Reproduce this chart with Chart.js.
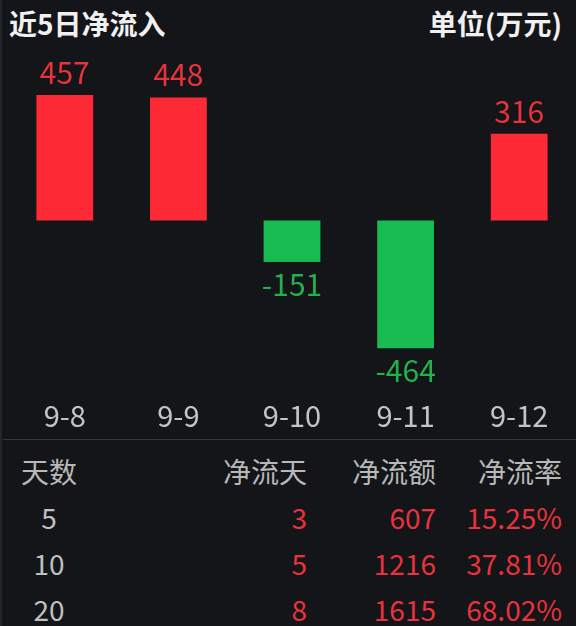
<!DOCTYPE html>
<html>
<head>
<meta charset="utf-8">
<script src="https://cdn.jsdelivr.net/npm/chart.js@4/dist/chart.umd.min.js"></script>
<style>
  html, body { margin: 0; padding: 0; }
  body {
    width: 576px; height: 626px; overflow: hidden;
    background: #131518;
    font-family: "Noto Sans CJK SC", "Noto Sans", sans-serif;
    border-left: 2px solid #23262a; box-sizing: border-box;
    position: relative;
  }
  .head { position: absolute; top: 0; left: 0; right: 0; height: 46px; }
  .head span { position: absolute; top: 5px; font-size: 28px; font-weight: bold; color: #f0f0f0; line-height: 36px; }
  .head .t { left: 7px; }
  .head .u { right: 14px; }
  .wrap { position: absolute; top: 46px; left: -2px; width: 576px; height: 393px; }
  .sep { position: absolute; top: 439px; left: 1px; right: 0; height: 1px; background: #34373c; }
  table { position: absolute; top: 448px; left: -2px; width: 562px; border-collapse: collapse; table-layout: fixed; }
  td { font-size: 28px; line-height: 46px; height: 46px; padding: 0; color: #e8323c; text-align: right; white-space: nowrap; }
  td.d { color: #c0c0c0; text-align: center; }
  tr.h td { color: #b8b8b8; }
</style>
</head>
<body>
<div class="head"><span class="t">近5日净流入</span><span class="u">单位(万元)</span></div>
<div class="wrap"><canvas id="myChart"></canvas></div>
<div class="sep"></div>
<table id="tbl"></table>
<script>
var days = ['9-8', '9-9', '9-10', '9-11', '9-12'];
var netFlow = [457, 448, -151, -464, 316];

var tableHead = ['天数', '净流天', '净流额', '净流率'];
var periods = ['5', '10', '20'];
var inflowDays = ['3', '5', '8'];
var inflowAmount = ['607', '1216', '1615'];
var inflowRate = ['15.25%', '37.81%', '68.02%'];

var red = '#fd2a36';
var green = '#18bb50';

var tbl = document.getElementById('tbl');
var widths = [98, 209, 129, 126];
var row = '<tr class="h">';
tableHead.forEach(function (t, i) {
    row += '<td' + (i === 0 ? ' class="d"' : '') + ' style="width:' + widths[i] + 'px">' + t + '</td>';
});
tbl.innerHTML = row + '</tr>' + periods.map(function (p, i) {
    return '<tr><td class="d">' + p + '</td><td>' + inflowDays[i] + '</td><td>' +
        inflowAmount[i] + '</td><td>' + inflowRate[i] + '</td></tr>';
}).join('');

var valueLabels = {
    id: 'valueLabels',
    afterDatasetsDraw: function (chart) {
        var ctx = chart.ctx;
        var meta = chart.getDatasetMeta(0);
        ctx.save();
        ctx.font = '30px "Noto Sans CJK SC", "Noto Sans", sans-serif';
        ctx.textAlign = 'center';
        ctx.textBaseline = 'alphabetic';
        meta.data.forEach(function (bar, i) {
            var v = netFlow[i];
            if (v >= 0) {
                ctx.fillStyle = '#e8323c';
                ctx.fillText(String(v), bar.x, bar.y - 11);
            } else {
                ctx.fillStyle = '#22b24c';
                ctx.fillText(String(v), bar.x, bar.y + 34);
            }
        });
        ctx.restore();
    }
};

var ctx = document.getElementById('myChart').getContext('2d');
var myChart = new Chart(ctx, {
    type: 'bar',
    data: {
        labels: days,
        datasets: [{
            data: netFlow,
            backgroundColor: netFlow.map(function (v) { return v >= 0 ? red : green; }),
            barPercentage: 0.5,
            categoryPercentage: 1
        }]
    },
    options: {
        responsive: true,
        maintainAspectRatio: false,
        animation: false,
        layout: { padding: { left: 8, right: 0, top: 0, bottom: 0 } },
        plugins: {
            legend: { display: false },
            tooltip: { enabled: false }
        },
        scales: {
            x: {
                grid: { display: false },
                border: { display: false },
                ticks: {
                    color: '#c4c4c4',
                    padding: 6,
                    font: { size: 29, family: '"Noto Sans CJK SC", "Noto Sans", sans-serif' }
                }
            },
            y: {
                display: false,
                min: -595,
                max: 635
            }
        }
    },
    plugins: [valueLabels]
});
</script>
</body>
</html>
